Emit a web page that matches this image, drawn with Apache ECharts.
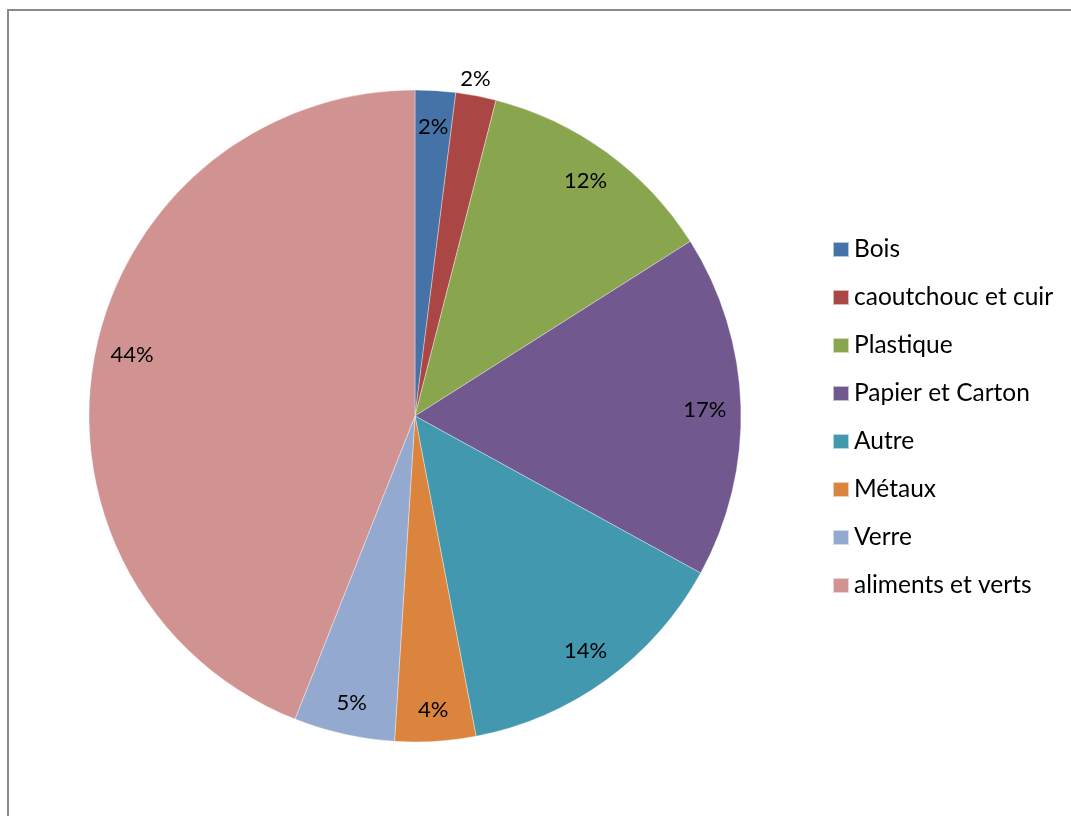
<!DOCTYPE html>
<html>
<head>
<meta charset="utf-8">
<script src="https://cdn.jsdelivr.net/npm/echarts@6/dist/echarts.min.js"></script>
<style>
html,body{margin:0;padding:0;background:#fff;}
#chart{width:1071px;height:816px;}
</style>
</head>
<body>
<div id="chart"></div>
<script>
const categories = ['Bois', 'caoutchouc et cuir', 'Plastique', 'Papier et Carton', 'Autre', 'Métaux', 'Verre', 'aliments et verts'];
const values = [2, 2, 12, 17, 14, 4, 5, 44];
const colors = ['#4572A7', '#AA4643', '#89A54E', '#71588F', '#4198AF', '#DB843D', '#93A9CF', '#D19392'];

const chart = echarts.init(document.getElementById('chart'), null, {renderer: 'canvas'});
const font = 'Lato, "Liberation Sans", sans-serif';

const pieData = categories.map((c, i) => ({name: c, value: values[i], itemStyle: {color: colors[i]}}));
const labelData = categories.map((c, i) => {
  const d = {name: c, value: values[i]};
  if (i === 1) d.label = {offset: [6, -52]};
  if (i === 3) d.label = {offset: [0, 3]};
  if (i === 5 || i === 6) d.label = {offset: [0, 4]};
  if (i === 7) d.label = {offset: [2, -7]};
  return d;
});

chart.setOption({
  animation: false,
  backgroundColor: '#fff',
  color: colors,
  graphic: [{
    type: 'rect',
    shape: {x: 8, y: 10, width: 1200, height: 900},
    style: {fill: 'none', stroke: '#8a8a8a', lineWidth: 2},
    silent: true
  }],
  legend: {
    orient: 'vertical',
    left: 827,
    top: 232,
    itemWidth: 16,
    itemHeight: 15,
    itemGap: 23,
    icon: 'rect',
    data: categories,
    textStyle: {fontFamily: font, fontSize: 24.5, color: '#000', lineHeight: 24}
  },
  series: [{
    type: 'pie',
    center: [415, 416],
    radius: [0, 326],
    startAngle: 90,
    clockwise: true,
    label: {show: false},
    labelLine: {show: false},
    itemStyle: {borderColor: 'rgba(255,255,255,0.6)', borderWidth: 0.6},
    emphasis: {disabled: true},
    data: pieData
  }, {
    type: 'pie',
    center: [415, 416],
    radius: [248, 326],
    startAngle: 90,
    clockwise: true,
    silent: true,
    legendHoverLink: false,
    itemStyle: {color: 'transparent'},
    label: {
      show: true,
      position: 'inside',
      formatter: '{d}%',
      fontFamily: font,
      fontSize: 22,
      color: '#000'
    },
    labelLine: {show: false},
    emphasis: {disabled: true},
    data: labelData
  }]
});
</script>
</body>
</html>
